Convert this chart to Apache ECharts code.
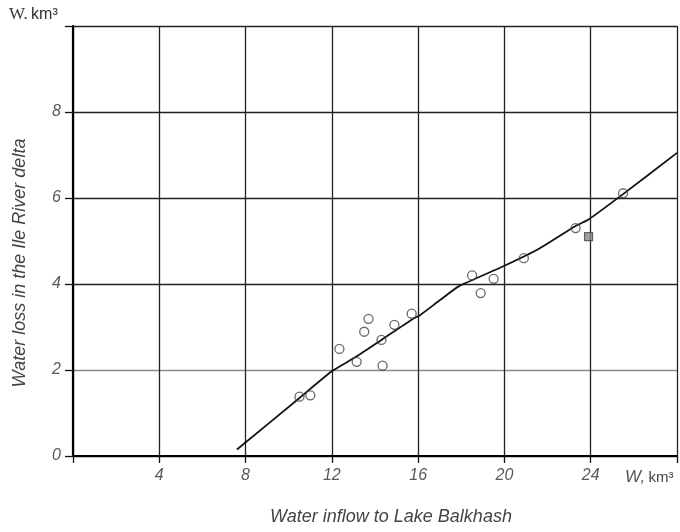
<!DOCTYPE html>
<html>
<head>
<meta charset="utf-8">
<script src="https://cdn.jsdelivr.net/npm/echarts@6/dist/echarts.min.js"></script>
<style>
  html, body { margin: 0; padding: 0; background: #fff; }
  #chart { width: 680px; height: 532px; }
</style>
</head>
<body>
<div id="chart"></div>
<script>
// Observed pairs: inflow to Lake Balkhash (km³) vs. water loss in the Ile delta (km³)
const inflow = [10.5, 11.0, 12.35, 13.15, 13.5, 13.7, 14.3, 14.35, 14.9, 15.7, 18.5, 18.9, 19.5, 20.9, 23.3, 25.5];
const loss   = [1.38, 1.41, 2.49, 2.19, 2.89, 3.19, 2.70, 2.10, 3.05, 3.31, 4.20, 3.79, 4.12, 4.60, 5.30, 6.11];
// Single highlighted observation
const markedInflow = [23.9];
const markedLoss = [5.10];
// Fitted relationship (hand-drawn curve)
const curveInflow = [7.6, 10.5, 12.0, 13.1, 14.3, 15.7, 16.1, 17.0, 17.9, 19.9, 21.6, 23.3, 23.9, 25.5, 28.0];
const curveLoss   = [0.15, 1.35, 1.97, 2.30, 2.70, 3.17, 3.28, 3.62, 3.95, 4.40, 4.82, 5.35, 5.50, 6.09, 7.05];
// Axis ticks
const xTicks = [0, 4, 8, 12, 16, 20, 24, 28];
const yTicks = [0, 2, 4, 6, 8, 10];

const zip = (a, b) => a.map((v, i) => [v, b[i]]);

const chart = echarts.init(document.getElementById('chart'), null, { renderer: 'canvas' });
const SANS = 'Liberation Sans, Arial, sans-serif';
const labelFont = { color: '#5a5a5a', fontStyle: 'italic', fontFamily: SANS, fontSize: 16 };

chart.setOption({
  animation: false,
  backgroundColor: '#fff',
  grid: { left: 73, right: 3, top: 26, bottom: 76 },
  xAxis: {
    type: 'value',
    min: xTicks[0], max: xTicks[xTicks.length - 1], interval: 4,
    axisLine: { show: true, onZero: false, lineStyle: { color: '#000', width: 2.2 } },
    axisTick: { show: true, length: 7, lineStyle: { color: '#111', width: 1.3 } },
    axisLabel: Object.assign({}, labelFont, {
      margin: 12,
      formatter: v => (v === 0 || v === 28) ? '' : String(v)
    }),
    splitLine: { show: true, lineStyle: { color: '#222', width: 1.3 } }
  },
  yAxis: {
    type: 'value',
    min: yTicks[0], max: yTicks[yTicks.length - 1], interval: 2,
    axisLine: { show: true, onZero: false, lineStyle: { color: '#000', width: 2.2 } },
    axisTick: { show: true, length: 8, lineStyle: { color: '#111', width: 1.3 } },
    axisLabel: Object.assign({}, labelFont, {
      margin: 12,
      formatter: v => v === 10 ? '' : String(v)
    }),
    splitLine: { show: true, lineStyle: { color: ['#222', '#8a8a8a', '#222', '#222', '#222', '#222'], width: 1.3 } }
  },
  series: [
    {
      type: 'line',
      data: zip(curveInflow, curveLoss),
      showSymbol: false,
      smooth: 0.2,
      lineStyle: { color: '#111', width: 1.8 },
      z: 3
    },
    {
      type: 'scatter',
      data: zip(inflow, loss),
      symbol: 'circle',
      symbolSize: 9,
      itemStyle: { color: 'rgba(255,255,255,0)', borderColor: '#444', borderWidth: 1.3 },
      z: 4
    },
    {
      type: 'scatter',
      data: zip(markedInflow, markedLoss),
      symbol: 'rect',
      symbolSize: 8,
      itemStyle: { color: '#888', borderColor: '#444', borderWidth: 1.2 },
      z: 4
    }
  ],
  graphic: [
    {
      type: 'text', left: 9, top: 6,
      style: {
        text: '{s|W.} {n|km³}',
        rich: {
          s: { fontSize: 17, fontFamily: '"Liberation Serif", "DejaVu Serif", serif', fill: '#333' },
          n: { fontSize: 16, fontFamily: SANS, fill: '#333' }
        }
      }
    },
    {
      type: 'text', left: 625, top: 469,
      style: {
        text: '{i|W,} {n|km³}',
        rich: {
          i: { fontStyle: 'italic', fontSize: 17, fontFamily: SANS, fill: '#555' },
          n: { fontSize: 15, fontFamily: SANS, fill: '#444' }
        }
      }
    },
    {
      type: 'text', x: 391, y: 517,
      style: {
        text: 'Water inflow to Lake Balkhash',
        font: 'italic 18px "Liberation Sans", Arial, sans-serif',
        fill: '#444', align: 'center', verticalAlign: 'middle'
      }
    },
    {
      type: 'text', x: 20, y: 263, rotation: Math.PI / 2,
      style: {
        text: 'Water loss in the Ile River delta',
        font: 'italic 18px "Liberation Sans", Arial, sans-serif',
        fill: '#444', align: 'center', verticalAlign: 'middle'
      }
    }
  ]
});
</script>
</body>
</html>
